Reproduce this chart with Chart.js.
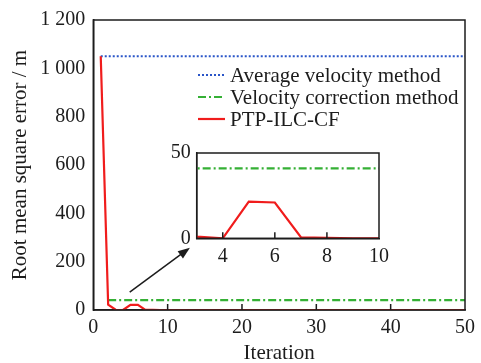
<!DOCTYPE html>
<html>
<head>
<meta charset="utf-8">
<script src="https://cdn.jsdelivr.net/npm/chart.js@4/dist/chart.umd.min.js"></script>
<style>
  html, body { margin: 0; padding: 0; background: #fff; }
  #wrap { position: relative; width: 481px; height: 363px; }
  #main { position: absolute; left: 0; top: 0; }
  #inset { position: absolute; left: 150px; top: 135px; }
</style>
</head>
<body>
<div id="wrap">
  <canvas id="main" width="481" height="363"></canvas>
  <canvas id="inset" width="245" height="135"></canvas>
</div>
<script>
// Iteration numbers
const iterations = [1, 2, 3, 4, 5, 6, 7, 8, 9, 10,
  11, 12, 13, 14, 15, 16, 17, 18, 19, 20,
  21, 22, 23, 24, 25, 26, 27, 28, 29, 30,
  31, 32, 33, 34, 35, 36, 37, 38, 39, 40,
  41, 42, 43, 44, 45, 46, 47, 48, 49, 50];

// RMSE (m) of each method per iteration
const avgVelocityRmse = [1050, 1050, 1050, 1050, 1050, 1050, 1050, 1050, 1050, 1050,
  1050, 1050, 1050, 1050, 1050, 1050, 1050, 1050, 1050, 1050,
  1050, 1050, 1050, 1050, 1050, 1050, 1050, 1050, 1050, 1050,
  1050, 1050, 1050, 1050, 1050, 1050, 1050, 1050, 1050, 1050,
  1050, 1050, 1050, 1050, 1050, 1050, 1050, 1050, 1050, 1050];
const velCorrectionRmse = [null, 41, 41, 41, 41, 41, 41, 41, 41, 41,
  41, 41, 41, 41, 41, 41, 41, 41, 41, 41,
  41, 41, 41, 41, 41, 41, 41, 41, 41, 41,
  41, 41, 41, 41, 41, 41, 41, 41, 41, 41,
  41, 41, 41, 41, 41, 41, 41, 41, 41, 41];
const ptpIlcCfRmse = [1050, 22, 1, 0, 21.5, 21, 0.6, 0.2, 0, 0,
  0, 0, 0, 0, 0, 0, 0, 0, 0, 0,
  0, 0, 0, 0, 0, 0, 0, 0, 0, 0,
  0, 0, 0, 0, 0, 0, 0, 0, 0, 0,
  0, 0, 0, 0, 0, 0, 0, 0, 0, 0];

const seriesLabels = ['Average velocity method', 'Velocity correction method', 'PTP-ILC-CF'];

// Tick values
const mainXTicks = [0, 10, 20, 30, 40, 50];
const mainYTicks = [0, 200, 400, 600, 800, 1000, 1200];
const insetXTicks = [4, 6, 8, 10];
const insetYTicks = [0, 50];

// Arrow pointing from the bump near the axis to the zoomed panel (data units)
const arrowFrom = { x: 4.9, y: 74 };
const arrowTo = { x: 13.0, y: 258 };

const FONT = 'Liberation Serif, "Times New Roman", serif';
const INK = '#1c1c1c';

function toPoints(values) {
  return iterations.map((it, i) => ({ x: it, y: values[i] }));
}

function makeDatasets() {
  return [
    { label: seriesLabels[0], data: toPoints(avgVelocityRmse), borderColor: '#2a55c8',
      borderWidth: 2.2, borderDash: [2, 2], pointRadius: 0, order: 2 },
    { label: seriesLabels[1], data: toPoints(velCorrectionRmse), borderColor: '#35b035',
      borderWidth: 2.2, borderDash: [8, 3, 2, 3], pointRadius: 0, order: 1 },
    { label: seriesLabels[2], data: toPoints(ptpIlcCfRmse), borderColor: '#f01c1c',
      borderWidth: 2.2, pointRadius: 0, order: 0 }
  ];
}

function fmtThousands(v) {
  return String(v).replace(/\B(?=(\d{3})+(?!\d))/g, ' ');
}

// Box frame and inward tick marks on the bottom axis
function frameAndTicks(tickValues, tickLen) {
  return {
    id: 'frameAndTicks',
    afterDraw(chart) {
      const { ctx, chartArea: a, scales } = chart;
      ctx.save();
      ctx.strokeStyle = INK;
      ctx.lineWidth = 1.5;
      ctx.setLineDash([]);
      ctx.strokeRect(a.left, a.top, a.right - a.left, a.bottom - a.top);
      ctx.beginPath();
      tickValues.forEach(v => {
        const px = scales.x.getPixelForValue(v);
        if (px > a.left + 1 && px < a.right - 1) {
          ctx.moveTo(px, a.bottom);
          ctx.lineTo(px, a.bottom - tickLen);
        }
      });
      ctx.stroke();
      ctx.restore();
    }
  };
}

const legendAndArrow = {
  id: 'legendAndArrow',
  afterDraw(chart) {
    const { ctx, scales } = chart;
    ctx.save();
    // arrow
    const x0 = scales.x.getPixelForValue(arrowFrom.x), y0 = scales.y.getPixelForValue(arrowFrom.y);
    const x1 = scales.x.getPixelForValue(arrowTo.x), y1 = scales.y.getPixelForValue(arrowTo.y);
    const ang = Math.atan2(y1 - y0, x1 - x0);
    const head = 12, half = 4.5;
    ctx.strokeStyle = INK;
    ctx.fillStyle = INK;
    ctx.lineWidth = 1.5;
    ctx.beginPath();
    ctx.moveTo(x0, y0);
    ctx.lineTo(x1 - Math.cos(ang) * head * 0.8, y1 - Math.sin(ang) * head * 0.8);
    ctx.stroke();
    ctx.beginPath();
    ctx.moveTo(x1, y1);
    ctx.lineTo(x1 - Math.cos(ang) * head - Math.sin(ang) * half, y1 - Math.sin(ang) * head + Math.cos(ang) * half);
    ctx.lineTo(x1 - Math.cos(ang) * head + Math.sin(ang) * half, y1 - Math.sin(ang) * head - Math.cos(ang) * half);
    ctx.closePath();
    ctx.fill();

    // legend
    const lx = 198, ly = 75, rowH = 22, sample = 27;
    ctx.font = '21px ' + FONT;
    ctx.textBaseline = 'middle';
    ctx.textAlign = 'left';
    chart.data.datasets.forEach((ds, i) => {
      const y = ly + i * rowH;
      ctx.strokeStyle = ds.borderColor;
      ctx.lineWidth = ds.borderWidth;
      ctx.setLineDash(ds.borderDash || []);
      ctx.beginPath();
      ctx.moveTo(lx, y);
      ctx.lineTo(lx + sample, y);
      ctx.stroke();
      ctx.setLineDash([]);
      ctx.fillStyle = INK;
      ctx.fillText(ds.label, lx + sample + 5, y + 1);
    });
    ctx.restore();
  }
};

Chart.defaults.font.family = FONT;
Chart.defaults.color = INK;

new Chart(document.getElementById('main'), {
  type: 'line',
  data: { datasets: makeDatasets() },
  options: {
    responsive: false,
    animation: false,
    devicePixelRatio: 1,
    layout: { padding: { top: 17, right: 10, left: 0, bottom: 0 } },
    plugins: { legend: { display: false }, tooltip: { enabled: false } },
    scales: {
      x: {
        type: 'linear', min: 0, max: 50,
        afterBuildTicks: s => { s.ticks = mainXTicks.map(v => ({ value: v })); },
        afterFit: s => { s.height = 53; },
        grid: { display: false, drawTicks: false },
        border: { display: true, color: INK, width: 1.5 },
        ticks: { font: { size: 20 }, padding: 6, maxRotation: 0 },
        title: { display: true, text: 'Iteration', font: { size: 21, lineHeight: 1 }, padding: { top: 0, bottom: -1 } }
      },
      y: {
        type: 'linear', min: 0, max: 1200,
        afterBuildTicks: s => { s.ticks = mainYTicks.map(v => ({ value: v })); },
        afterFit: s => { s.width = 93.3; },
        grid: { display: false, drawTicks: false },
        border: { display: true, color: INK, width: 1.5 },
        ticks: { font: { size: 20 }, padding: 8, callback: v => fmtThousands(v) },
        title: { display: true, text: 'Root mean square error / m', font: { size: 21 }, padding: { top: 8 } }
      }
    }
  },
  plugins: [frameAndTicks(mainXTicks, 6), legendAndArrow]
});

new Chart(document.getElementById('inset'), {
  type: 'line',
  data: { datasets: makeDatasets() },
  options: {
    responsive: false,
    animation: false,
    devicePixelRatio: 1,
    layout: { padding: { top: 17.7, right: 16, left: 0, bottom: 0 } },
    plugins: { legend: { display: false }, tooltip: { enabled: false } },
    scales: {
      x: {
        type: 'linear', min: 3, max: 10,
        afterBuildTicks: s => { s.ticks = insetXTicks.map(v => ({ value: v })); },
        afterFit: s => { s.height = 31.7; },
        grid: { display: false, drawTicks: false },
        border: { display: true, color: INK, width: 1.5 },
        ticks: { font: { size: 20 }, padding: 6, maxRotation: 0 }
      },
      y: {
        type: 'linear', min: 0, max: 50,
        afterBuildTicks: s => { s.ticks = insetYTicks.map(v => ({ value: v })); },
        afterFit: s => { s.width = 46.7; },
        grid: { display: false, drawTicks: false },
        border: { display: true, color: INK, width: 1.5 },
        ticks: { font: { size: 20 }, padding: 6 }
      }
    }
  },
  plugins: [frameAndTicks(insetXTicks, 6)]
});
</script>
</body>
</html>
